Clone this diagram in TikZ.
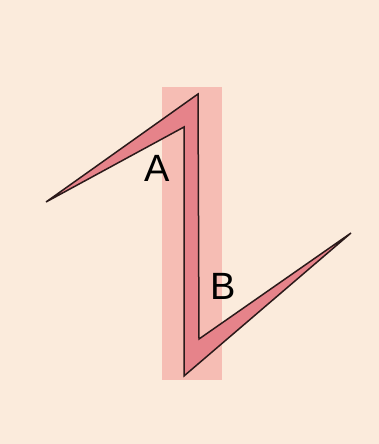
\documentclass[tikz,border=0pt]{standalone}
\usepackage{fontspec}
\setmainfont{Liberation Sans}
\definecolor{cream}{HTML}{FBEBDC}
\definecolor{bandpink}{HTML}{F6BDB4}
\definecolor{zpink}{HTML}{E6838A}
\definecolor{zline}{HTML}{2B1A1A}
\begin{document}
\begin{tikzpicture}[x=1pt, y=-1pt,
  band/.style={fill=bandpink, draw=none},
  zigzag/.style={fill=zpink, draw=zline, line width=1.5pt, line join=miter},
  every node/.style={inner sep=0pt, font=\fontsize{38}{38}\selectfont}]
\useasboundingbox (0,0) rectangle (379,444);
\fill[cream] (0,0) rectangle (379,444);
\fill[band] (162,87) rectangle (222,380);
\draw[zigzag] (46,202) -- (198,94) -- (199,339) -- (351,233)
  -- (184,376) -- (184,127) -- cycle;
\node (A) at (157,168) {A};
\node (B) at (223,286) {B};
\end{tikzpicture}
\end{document}
